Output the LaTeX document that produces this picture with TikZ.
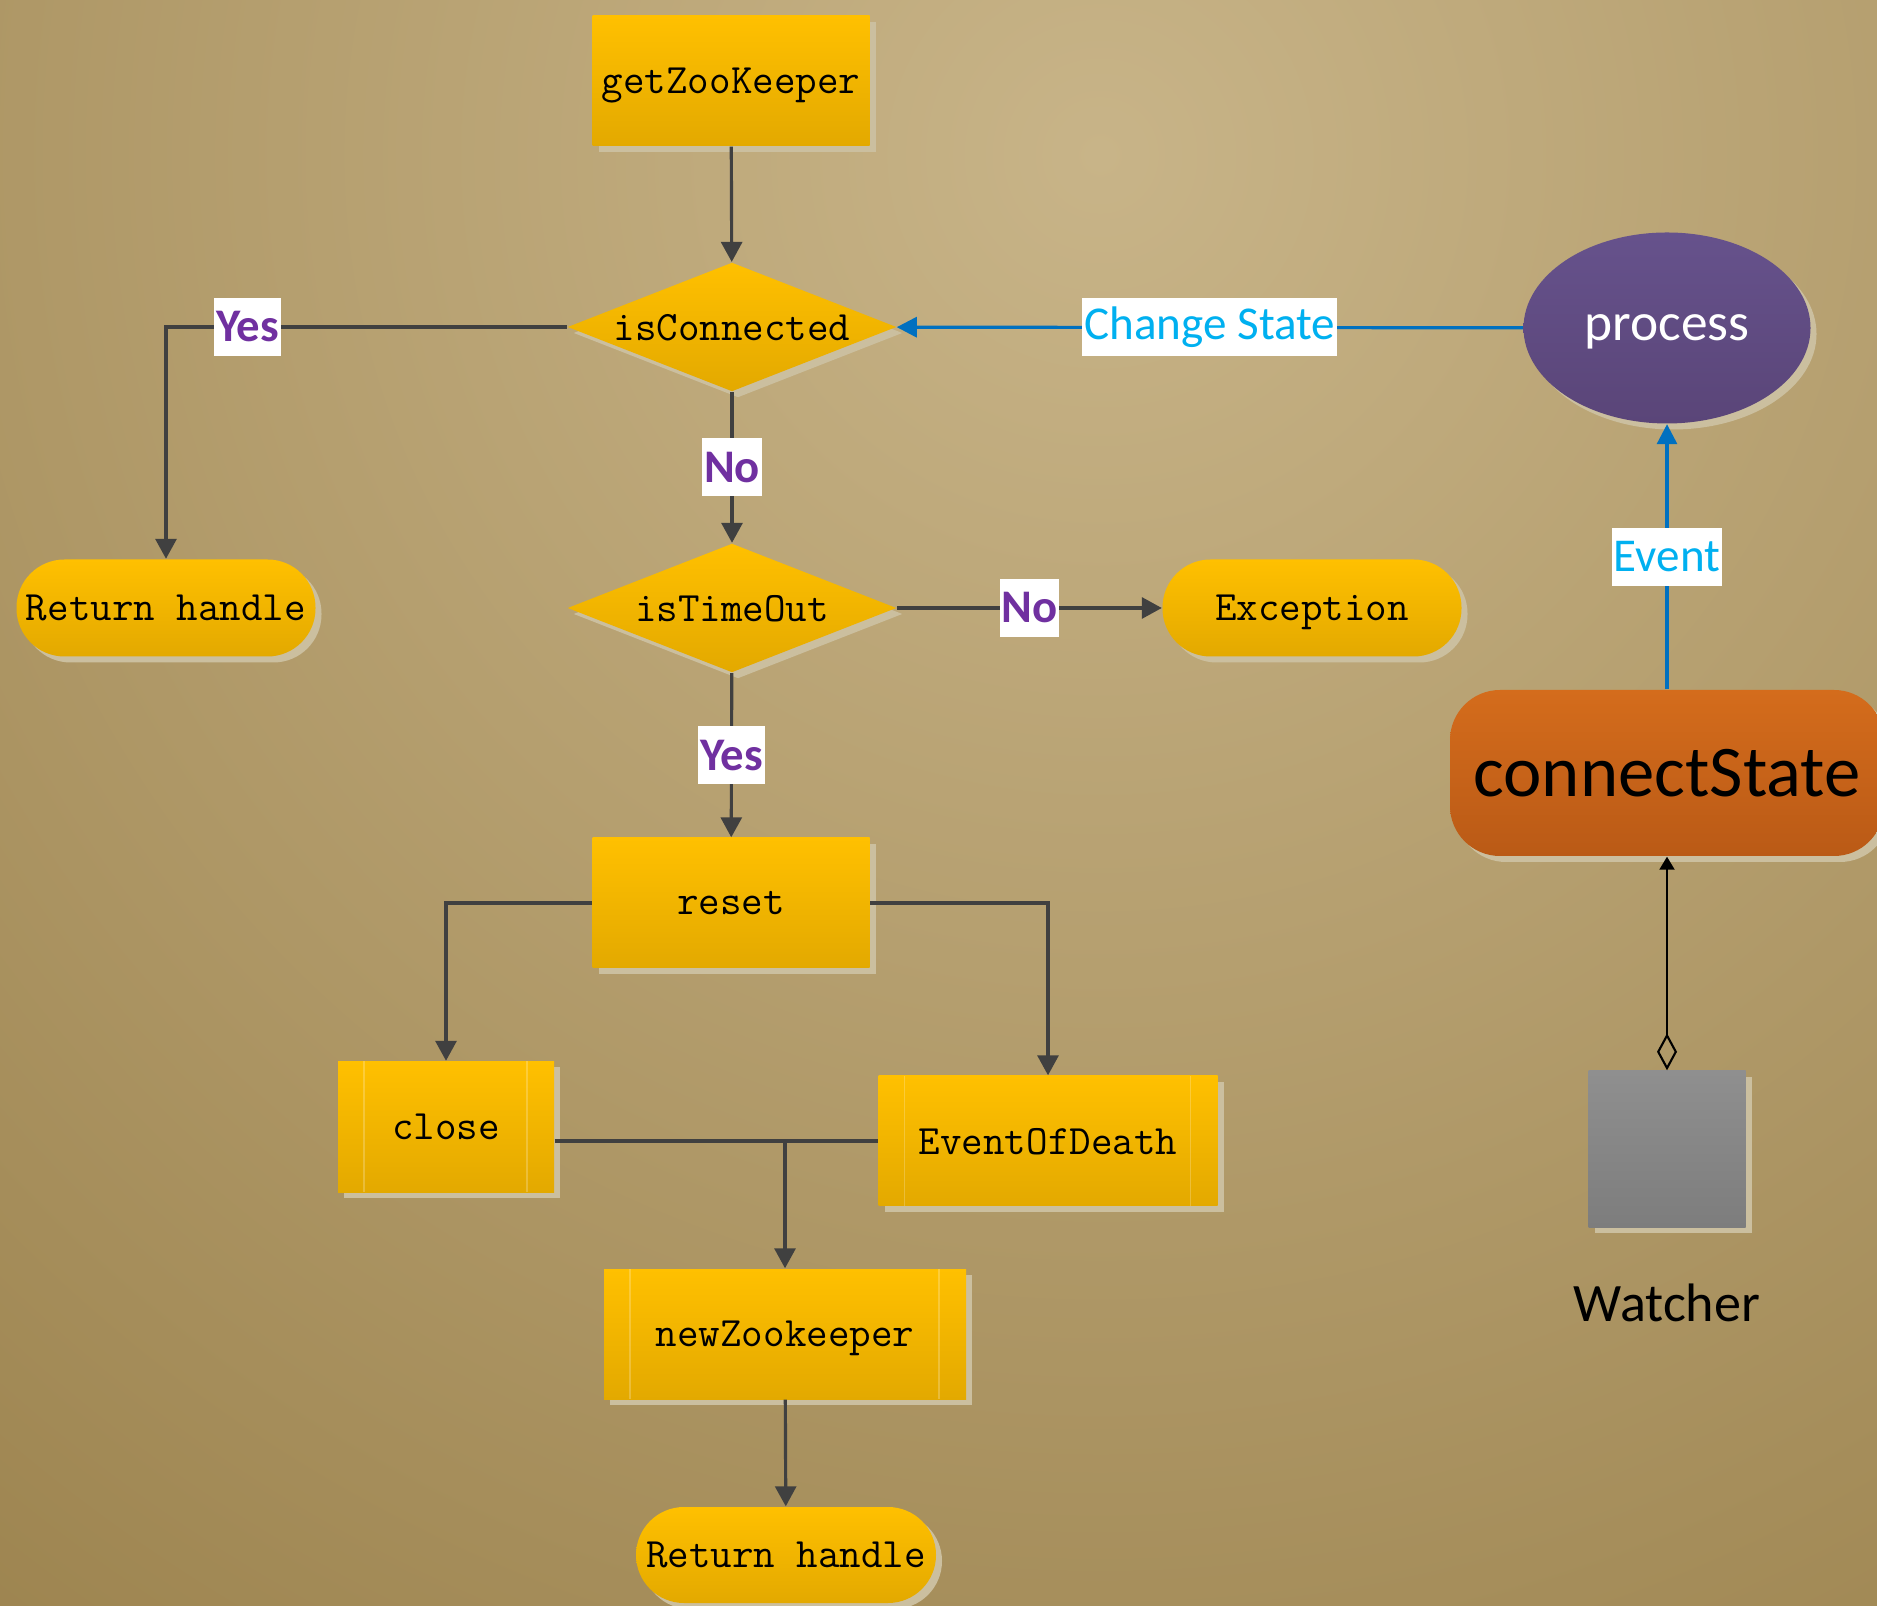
\documentclass[tikz,border=0pt]{standalone}
\usepackage{fontspec}
\setsansfont{Carlito}
\usetikzlibrary{arrows.meta,shapes.geometric,shadows}
\definecolor{paperin}{HTML}{C8B488}
\definecolor{paperout}{HTML}{9C834E}
\definecolor{boxtop}{HTML}{FFC000}
\definecolor{boxbot}{HTML}{E3A900}
\definecolor{shadowc}{HTML}{CBBF9F}
\definecolor{linegray}{HTML}{404040}
\definecolor{lineblue}{HTML}{0070C0}
\definecolor{labpurple}{HTML}{7030A0}
\definecolor{labblue}{HTML}{00B0F0}
\definecolor{proctop}{HTML}{66528C}
\definecolor{procbot}{HTML}{5A4578}
\definecolor{statetop}{HTML}{D46C1C}
\definecolor{statebot}{HTML}{BA5A16}
\definecolor{watchtop}{HTML}{8F8F8F}
\definecolor{watchbot}{HTML}{7D7D7D}

\begin{document}
\begin{tikzpicture}[
    flow/.style={draw=linegray, line width=0.9pt, -{Triangle[length=0.2cm,width=0.21cm]}},
    bflow/.style={draw=lineblue, line width=0.9pt, -{Triangle[length=0.2cm,width=0.2cm]}},
    plain/.style={draw=linegray, line width=0.9pt},
    sh/.style={drop shadow={shadow xshift=0.06cm, shadow yshift=-0.06cm, fill=shadowc, opacity=1}},
    yel/.style={sh, top color=boxtop, bottom color=boxbot, font=\fontsize{11.9}{14}\selectfont\ttfamily, inner sep=0pt, text depth=0pt},
    box/.style={yel, rectangle, minimum height=1.3cm},
    innerline/.style={draw=white, line width=0.4pt, opacity=0.22},
    predbox/.style={box, path picture={
        \draw[innerline] ([xshift=0.26cm]path picture bounding box.north west) -- ([xshift=0.26cm]path picture bounding box.south west);
        \draw[innerline] ([xshift=-0.27cm]path picture bounding box.north east) -- ([xshift=-0.27cm]path picture bounding box.south east);}},
    decision/.style={yel, diamond, aspect=2.55, minimum width=3.29cm, minimum height=1.29cm},
    terminal/.style={yel, rectangle, rounded corners=0.48cm, minimum width=2.99cm, minimum height=0.97cm},
    lab/.style={fill=white, text=labpurple, font=\fontsize{13.3}{16}\selectfont\sffamily\bfseries, inner xsep=0.02cm, inner ysep=0pt, minimum height=0.58cm},
    blab/.style={lab, text=labblue, font=\fontsize{13.4}{16}\selectfont\sffamily}
    ]
    \clip (0,0) rectangle (18.77,16.05);
    \shade[inner color=paperin, outer color=paperout] (11,14.5) circle (19);

    \node[box, minimum width=2.77cm] (gzk) at (7.31,15.24) {getZooKeeper};
    \node[decision] (conn) at (7.32,12.78) {isConnected};
    \node[terminal] (retl) at (1.66,9.97) {Return handle};
    \node[decision] (tout) at (7.32,9.97) {isTimeOut};
    \node[terminal] (exc) at (13.12,9.97) {Exception};
    \node[box, minimum width=2.77cm] (reset) at (7.31,7.02) {reset};
    \node[predbox, minimum width=2.16cm, minimum height=1.31cm] (close) at (4.46,4.78) {close};
    \node[predbox, minimum width=3.39cm] (death) at (10.48,4.64) {EventOfDeath};
    \node[predbox, minimum width=3.62cm] (newzk) at (7.85,2.71) {newZookeeper};
    \node[terminal, minimum width=3.0cm, minimum height=0.96cm] (retb) at (7.86,0.50) {Return handle};

    \node[sh, ellipse, top color=proctop, bottom color=procbot, minimum width=2.87cm, minimum height=1.91cm, inner sep=0pt, text=white, text depth=0pt, font=\fontsize{15.2}{18}\selectfont\sffamily] (proc) at (16.67,12.77) {process};
    \node[sh, rectangle, rounded corners=0.5cm, top color=statetop, bottom color=statebot, minimum width=4.34cm, minimum height=1.66cm, inner sep=0pt, font=\fontsize{20.7}{24}\selectfont\sffamily] (state) at (16.67,8.32) {connectState};
    \node[sh, rectangle, top color=watchtop, bottom color=watchbot, minimum width=1.57cm, minimum height=1.56cm] (watch) at (16.67,4.56) {};
    \node[font=\fontsize{15.4}{18}\selectfont\sffamily] (wlab) at (16.67,3.02) {Watcher};

    \draw[flow] (gzk) -- (conn);
    \draw[flow] (conn.west) -| (retl.north) node[lab, pos=0.398] {Yes};
    \draw[flow] (conn) -- (tout) node[lab, midway] {No};
    \draw[flow] (tout) -- (exc) node[lab, midway] {No};
    \draw[flow] (tout) -- (reset) node[lab, midway] {Yes};
    \draw[flow] (reset.west) -| (close.north);
    \draw[flow] (reset.east) -| (death.north);
    \coordinate (join) at (newzk.north |- death.west);
    \draw[plain] (close.east |- death.west) -- (death.west);
    \draw[flow] (join) -- (newzk);
    \draw[flow] (newzk) -- (retb);

    \draw[bflow] (proc) -- (conn) node[blab, midway] {Change State};
    \draw[bflow] (state) -- (proc) node[blab, midway] {Event};
    \draw[black, line width=0.6pt, {Diamond[open,length=0.37cm,width=0.2cm]}-{Triangle[length=0.13cm,width=0.15cm]}] (watch) -- (state);
\end{tikzpicture}
\end{document}
